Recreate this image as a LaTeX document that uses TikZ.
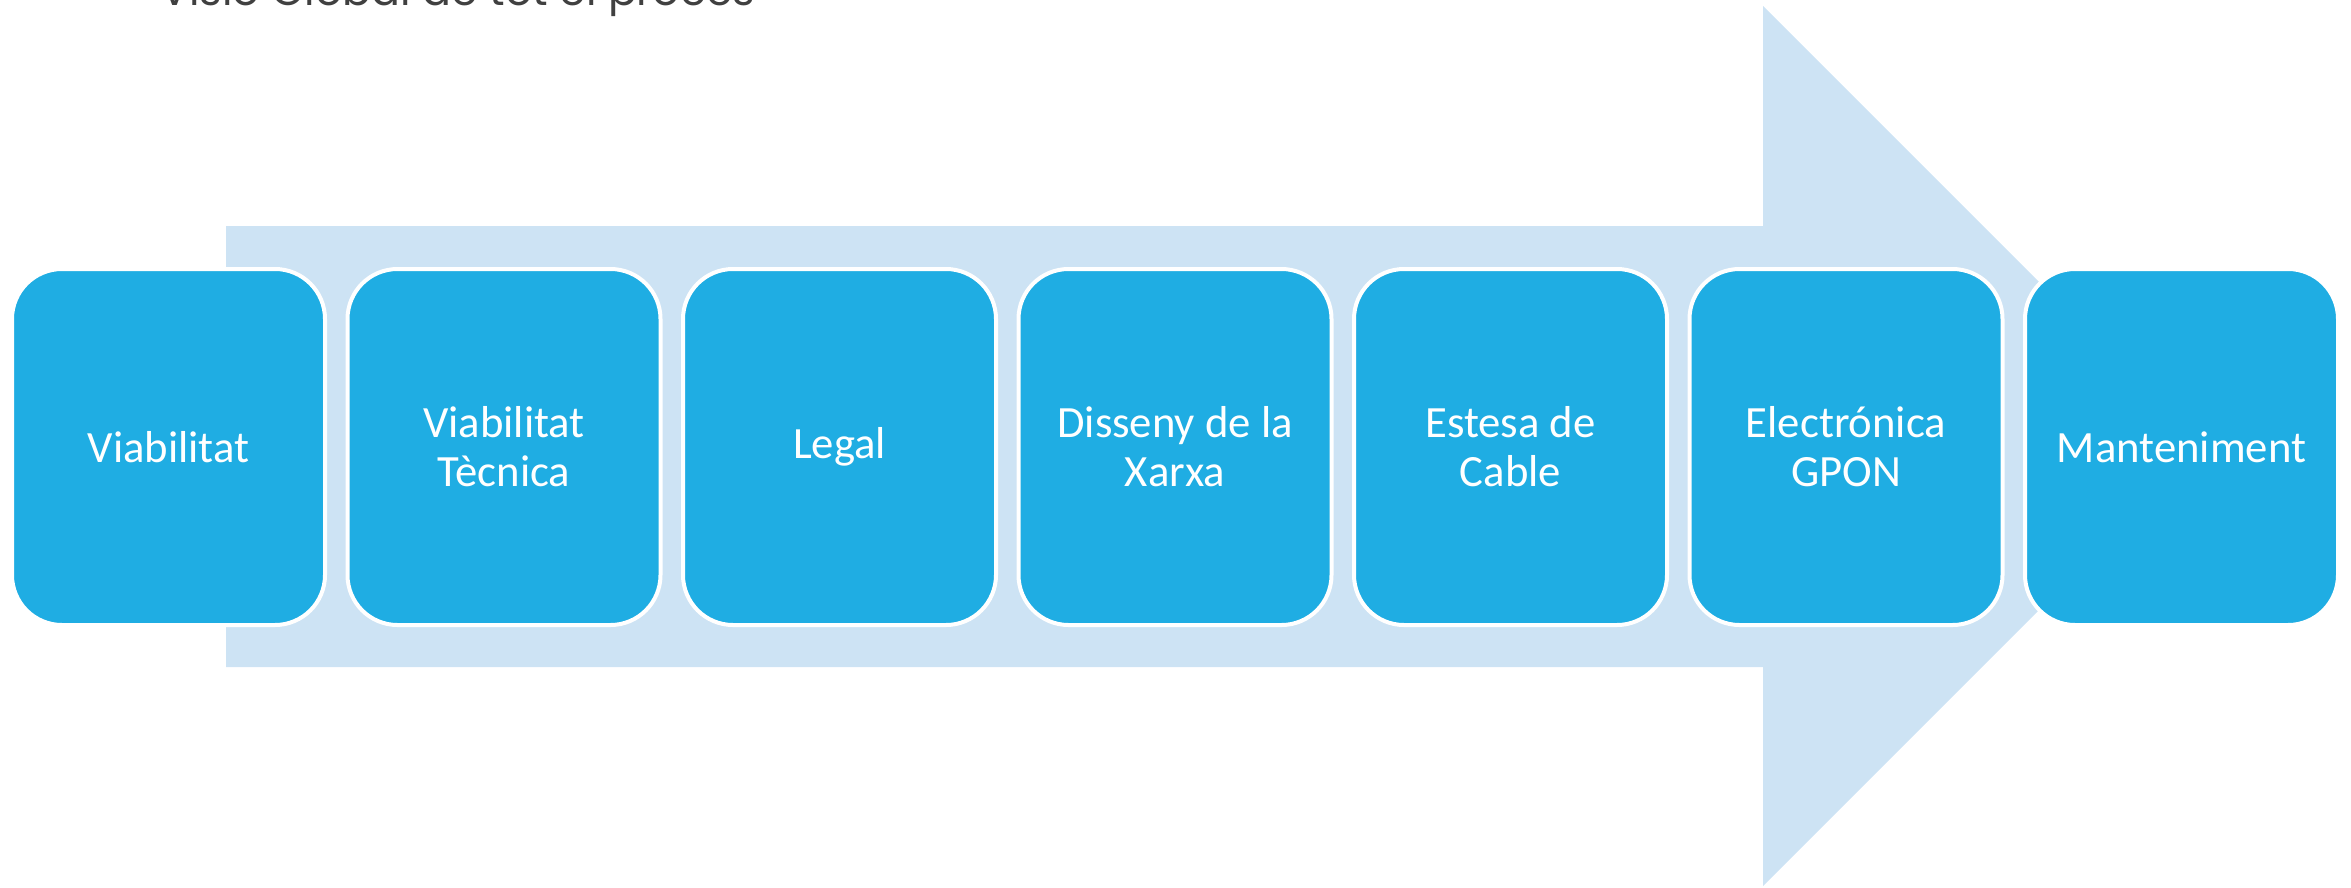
\documentclass[tikz,border=0pt]{standalone}
\usepackage{fontspec}
\setmainfont{Carlito}
\newfontfamily\titlefont{Poppins}
\definecolor{boxblue}{HTML}{1FADE3}
\definecolor{arrowblue}{HTML}{CDE3F4}
\definecolor{titlegray}{HTML}{404040}
\begin{document}
\begin{tikzpicture}[x=1pt,y=-1pt,
  stagebox/.style={draw=white, line width=4pt, fill=boxblue, rounded corners=50pt,
    minimum width=313pt, minimum height=356pt, inner sep=0pt, text=white,
    align=center, font=\fontsize{44.7pt}{49pt}\selectfont}]
\useasboundingbox (0,0) rectangle (2351,887);
\fill[arrowblue] (226,226) -- (1763,226) -- (1763,6) -- (2203,446) -- (1763,886)
  -- (1763,667) -- (226,667) -- cycle;
\node[anchor=base west, text=titlegray, inner sep=0pt] (title) at (160,5)
  {\resizebox{595pt}{!}{\titlefont Visió Global de tot el procés}};
\node[stagebox] (s1) at (168.5,447) {Viabilitat};
\node[stagebox] (s2) at (504,447) {Viabilitat\\Tècnica};
\node[stagebox] (s3) at (839.5,447) {Legal};
\node[stagebox] (s4) at (1175,447) {Disseny de la\\Xarxa};
\node[stagebox] (s5) at (1510.5,447) {Estesa de\\Cable};
\node[stagebox] (s6) at (1846,447) {Electrónica\\GPON};
\node[stagebox] (s7) at (2181.5,447) {Manteniment};
\end{tikzpicture}
\end{document}
